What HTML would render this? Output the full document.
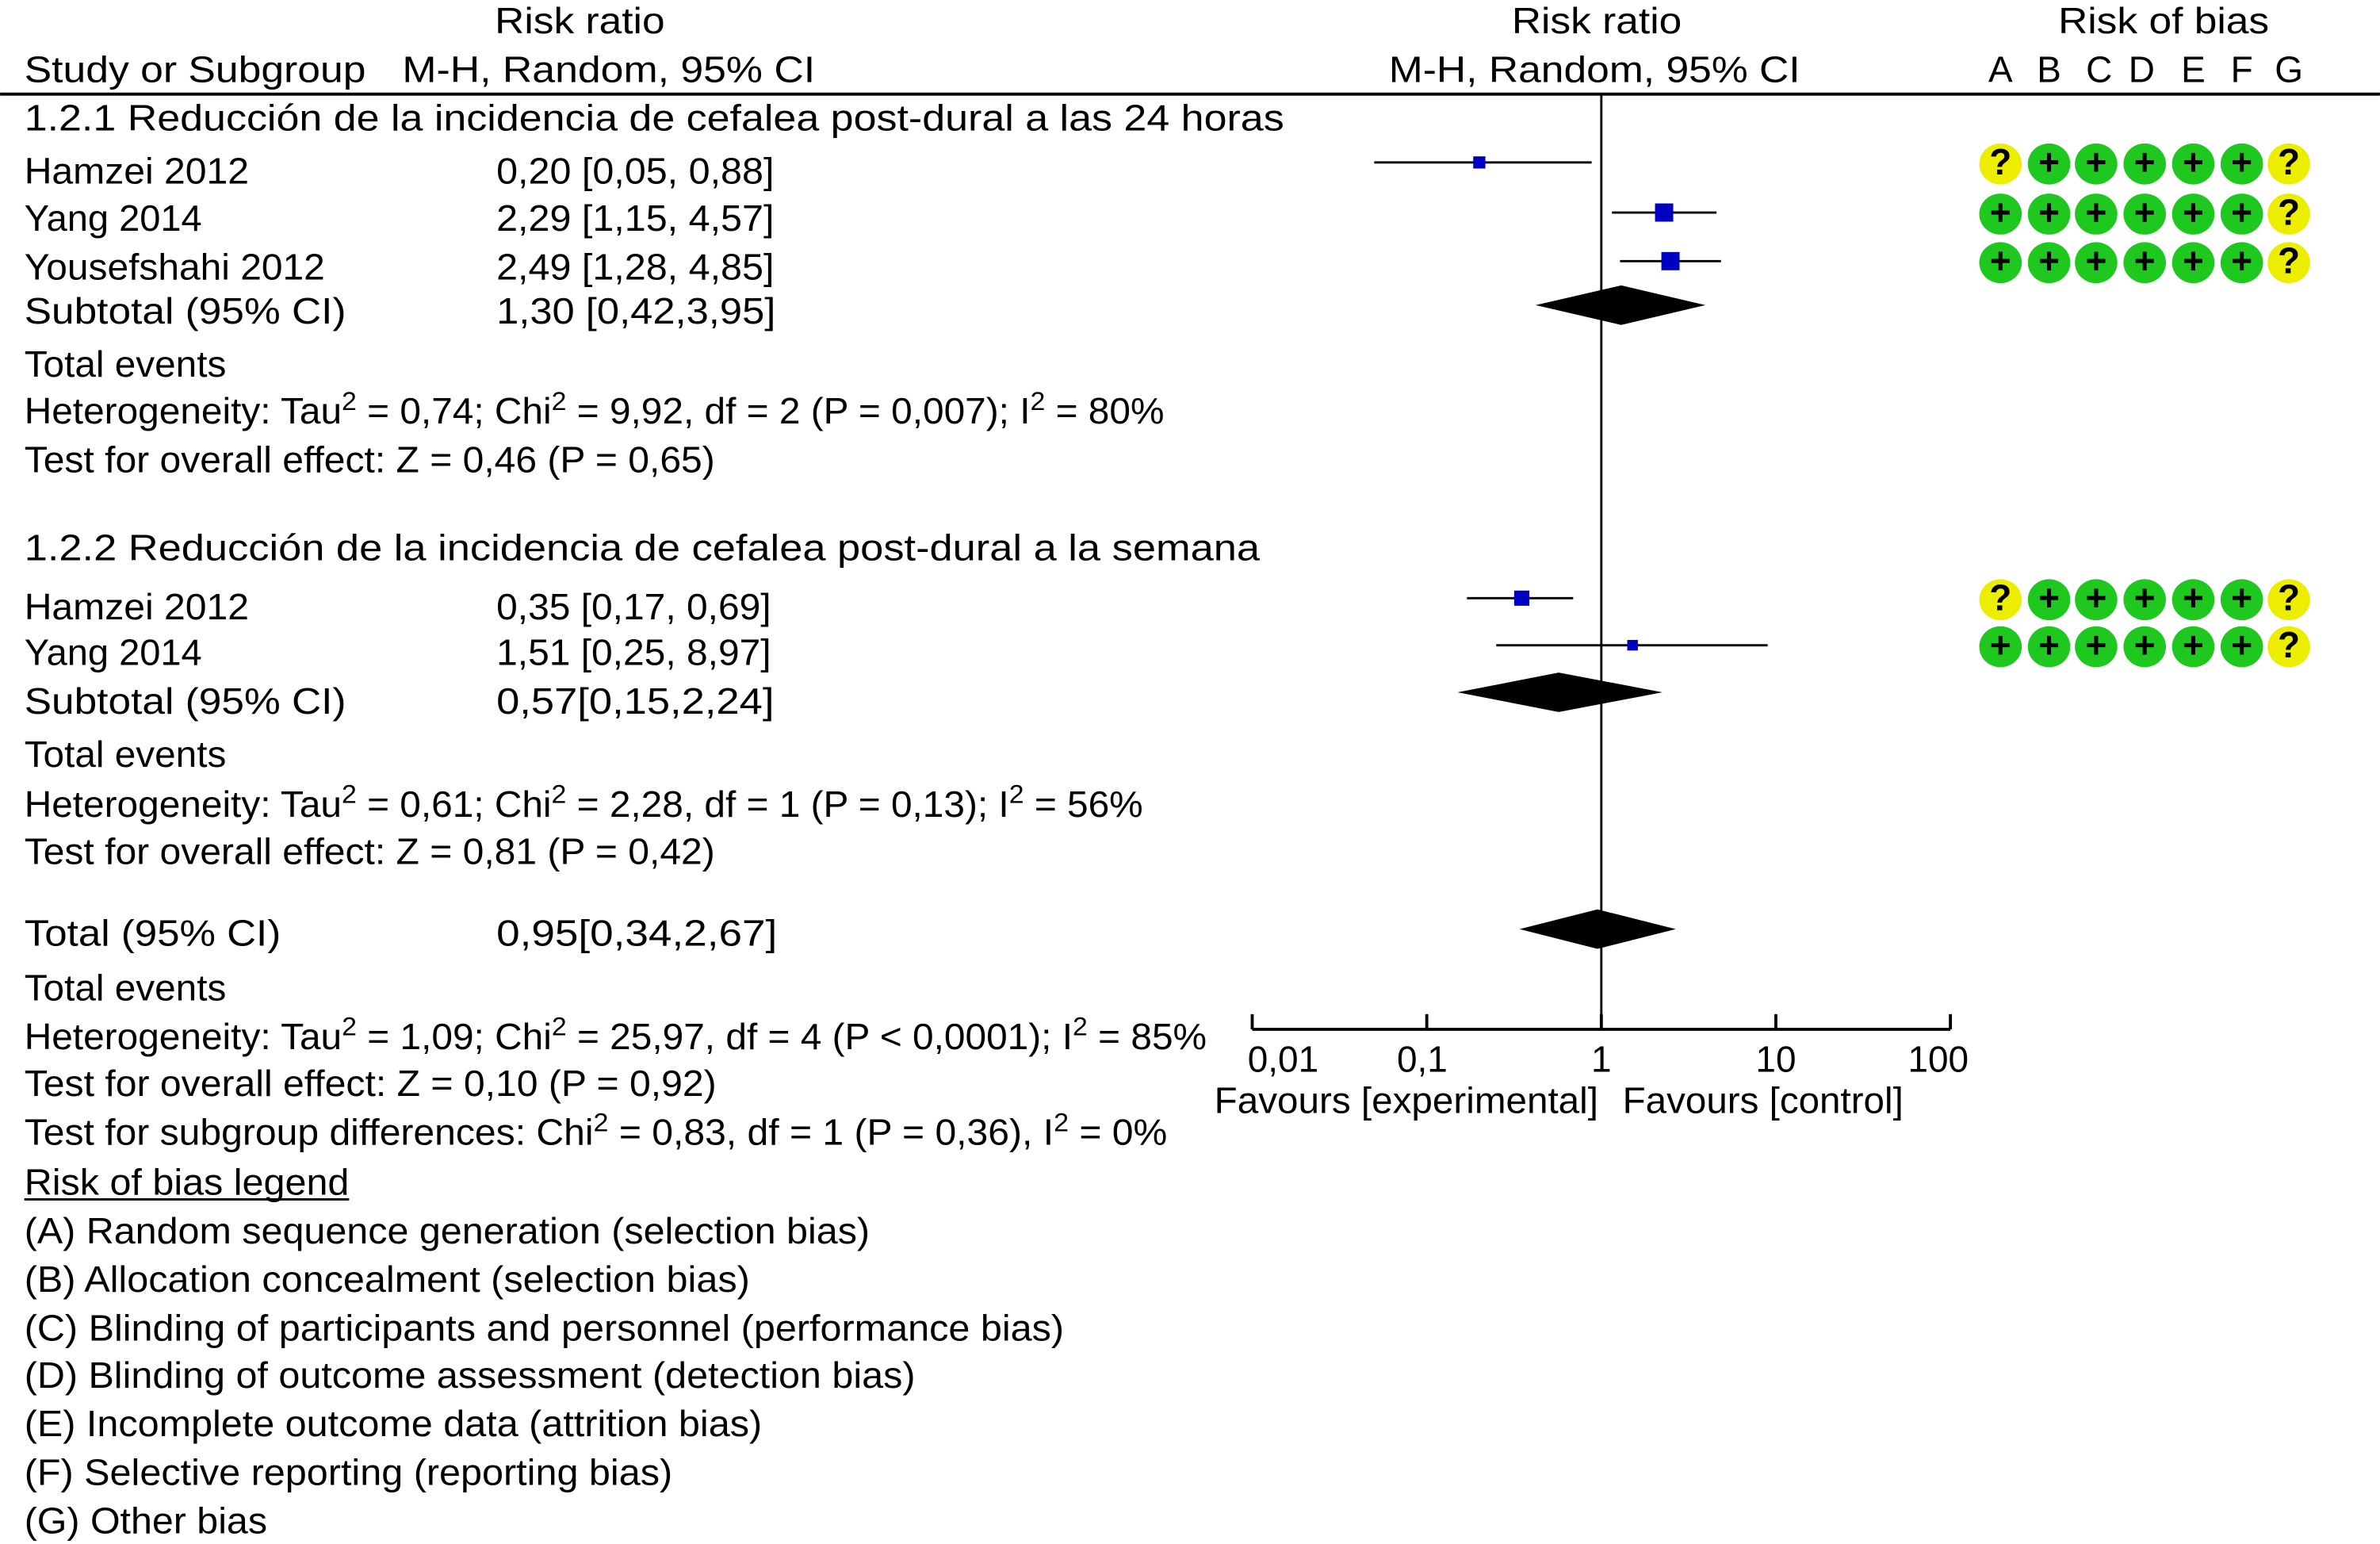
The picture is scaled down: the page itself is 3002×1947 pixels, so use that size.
<!DOCTYPE html>
<html><head><meta charset="utf-8"><style>
html,body{margin:0;padding:0;background:#fff;}
svg{display:block;}
text{font-family:"Liberation Sans",sans-serif;font-size:24px;fill:#000;}
</style></head><body>
<svg id="chart" width="3002" height="1947" viewBox="0 0 1568 1017" xmlns="http://www.w3.org/2000/svg">
<g>
<text x="382" y="22" text-anchor="middle" textLength="112" lengthAdjust="spacingAndGlyphs">Risk ratio</text>
<text x="16" y="54" textLength="225" lengthAdjust="spacingAndGlyphs">Study or Subgroup</text>
<text x="265" y="54" textLength="272" lengthAdjust="spacingAndGlyphs">M-H, Random, 95% CI</text>
<text x="996" y="22" textLength="112" lengthAdjust="spacingAndGlyphs">Risk ratio</text>
<text x="915" y="54" textLength="271" lengthAdjust="spacingAndGlyphs">M-H, Random, 95% CI</text>
<text x="1356" y="22" textLength="139" lengthAdjust="spacingAndGlyphs">Risk of bias</text>
<g font-size="25">
<text x="1318" y="54" text-anchor="middle" font-size="25">A</text><text x="1350" y="54" text-anchor="middle" font-size="25">B</text><text x="1383" y="54" text-anchor="middle" font-size="25">C</text><text x="1411" y="54" text-anchor="middle" font-size="25">D</text><text x="1445" y="54" text-anchor="middle" font-size="25">E</text><text x="1477" y="54" text-anchor="middle" font-size="25">F</text><text x="1508" y="54" text-anchor="middle" font-size="25">G</text>
</g>
<line x1="0" y1="62" x2="1568" y2="62" stroke="#000" stroke-width="2"/>
</g>
<g>
<text x="16" y="86" textLength="830" lengthAdjust="spacingAndGlyphs">1.2.1 Reducción de la incidencia de cefalea post-dural a las 24 horas</text>
<text x="16" y="121" textLength="148" lengthAdjust="spacingAndGlyphs">Hamzei 2012</text>
<text x="327" y="121" textLength="183" lengthAdjust="spacingAndGlyphs">0,20 [0,05, 0,88]</text>
<text x="16" y="152" textLength="117" lengthAdjust="spacingAndGlyphs">Yang 2014</text>
<text x="327" y="152" textLength="183" lengthAdjust="spacingAndGlyphs">2,29 [1,15, 4,57]</text>
<text x="16" y="184" textLength="198" lengthAdjust="spacingAndGlyphs">Yousefshahi 2012</text>
<text x="327" y="184" textLength="183" lengthAdjust="spacingAndGlyphs">2,49 [1,28, 4,85]</text>
<text x="16" y="213" textLength="212" lengthAdjust="spacingAndGlyphs">Subtotal (95% CI)</text>
<text x="327" y="213" textLength="184" lengthAdjust="spacingAndGlyphs">1,30 [0,42,3,95]</text>
<text x="16" y="248" textLength="133" lengthAdjust="spacingAndGlyphs">Total events</text>
<text x="16" y="279" textLength="751" lengthAdjust="spacingAndGlyphs">Heterogeneity: Tau<tspan dy="-9" font-size="17">2</tspan><tspan dy="9"> = 0,74; Chi</tspan><tspan dy="-9" font-size="17">2</tspan><tspan dy="9"> = 9,92, df = 2 (P = 0,007); I</tspan><tspan dy="-9" font-size="17">2</tspan><tspan dy="9"> = 80%</tspan></text>
<text x="16" y="311" textLength="455" lengthAdjust="spacingAndGlyphs">Test for overall effect: Z = 0,46 (P = 0,65)</text>
<text x="16" y="369" textLength="814" lengthAdjust="spacingAndGlyphs">1.2.2  Reducción de la incidencia de cefalea post-dural a la semana</text>
<text x="16" y="408" textLength="148" lengthAdjust="spacingAndGlyphs">Hamzei 2012</text>
<text x="327" y="408" textLength="181" lengthAdjust="spacingAndGlyphs">0,35 [0,17, 0,69]</text>
<text x="16" y="438" textLength="117" lengthAdjust="spacingAndGlyphs">Yang 2014</text>
<text x="327" y="438" textLength="181" lengthAdjust="spacingAndGlyphs">1,51 [0,25, 8,97]</text>
<text x="16" y="470" textLength="212" lengthAdjust="spacingAndGlyphs">Subtotal (95% CI)</text>
<text x="327" y="470" textLength="183" lengthAdjust="spacingAndGlyphs">0,57[0,15,2,24]</text>
<text x="16" y="505" textLength="133" lengthAdjust="spacingAndGlyphs">Total events</text>
<text x="16" y="538" textLength="737" lengthAdjust="spacingAndGlyphs">Heterogeneity: Tau<tspan dy="-9" font-size="17">2</tspan><tspan dy="9"> = 0,61; Chi</tspan><tspan dy="-9" font-size="17">2</tspan><tspan dy="9"> = 2,28, df = 1 (P = 0,13); I</tspan><tspan dy="-9" font-size="17">2</tspan><tspan dy="9"> = 56%</tspan></text>
<text x="16" y="569" textLength="455" lengthAdjust="spacingAndGlyphs">Test for overall effect: Z = 0,81 (P = 0,42)</text>
<text x="16" y="623" textLength="169" lengthAdjust="spacingAndGlyphs">Total (95% CI)</text>
<text x="327" y="623" textLength="185" lengthAdjust="spacingAndGlyphs">0,95[0,34,2,67]</text>
<text x="16" y="659" textLength="133" lengthAdjust="spacingAndGlyphs">Total events</text>
<text x="16" y="691" textLength="779" lengthAdjust="spacingAndGlyphs">Heterogeneity: Tau<tspan dy="-9" font-size="17">2</tspan><tspan dy="9"> = 1,09; Chi</tspan><tspan dy="-9" font-size="17">2</tspan><tspan dy="9"> = 25,97, df = 4 (P &lt; 0,0001); I</tspan><tspan dy="-9" font-size="17">2</tspan><tspan dy="9"> = 85%</tspan></text>
<text x="16" y="722" textLength="456" lengthAdjust="spacingAndGlyphs">Test for overall effect: Z = 0,10 (P = 0,92)</text>
<text x="16" y="754" textLength="753" lengthAdjust="spacingAndGlyphs">Test for subgroup differences: Chi<tspan dy="-9" font-size="17">2</tspan><tspan dy="9"> = 0,83, df = 1 (P = 0,36), I</tspan><tspan dy="-9" font-size="17">2</tspan><tspan dy="9"> = 0%</tspan></text>
<text x="16" y="787" textLength="214" lengthAdjust="spacingAndGlyphs">Risk of bias legend</text>
<line x1="16" y1="790" x2="230" y2="790" stroke="#000" stroke-width="1.5"/>
<text x="16" y="819" textLength="557" lengthAdjust="spacingAndGlyphs">(A) Random sequence generation (selection bias)</text>
<text x="16" y="851" textLength="478" lengthAdjust="spacingAndGlyphs">(B) Allocation concealment (selection bias)</text>
<text x="16" y="883" textLength="685" lengthAdjust="spacingAndGlyphs">(C) Blinding of participants and personnel (performance bias)</text>
<text x="16" y="914" textLength="587" lengthAdjust="spacingAndGlyphs">(D) Blinding of outcome assessment (detection bias)</text>
<text x="16" y="946" textLength="486" lengthAdjust="spacingAndGlyphs">(E) Incomplete outcome data (attrition bias)</text>
<text x="16" y="978" textLength="427" lengthAdjust="spacingAndGlyphs">(F) Selective reporting (reporting bias)</text>
<text x="16" y="1010" textLength="160" lengthAdjust="spacingAndGlyphs">(G) Other bias</text>
</g>
<g id="plot"></g>
<g id="bias"></g>
<text x="800" y="733" textLength="253" lengthAdjust="spacingAndGlyphs">Favours [experimental]</text>
<text x="1069" y="733" textLength="185" lengthAdjust="spacingAndGlyphs">Favours [control]</text>
</svg>
<script>
const studyNames = ["Hamzei 2012","Yang 2014","Yousefshahi 2012","Hamzei 2012","Yang 2014"];
const studyEst = [0.20, 2.29, 2.49, 0.35, 1.51];
const studyLo = [0.05, 1.15, 1.28, 0.17, 0.25];
const studyHi = [0.88, 4.57, 4.85, 0.69, 8.97];
const studyWeight = [8, 12, 12, 10, 7];
const studyRowY = [107, 140, 172, 394, 425];
const diamondNames = ["subtotal-1","subtotal-2","total"];
const diamondEst = [1.30, 0.57, 0.95];
const diamondLo = [0.42, 0.15, 0.34];
const diamondHi = [3.95, 2.24, 2.67];
const diamondRowY = [201, 456, 612];
const tickValues = [0.01, 0.1, 1, 10, 100];
const tickLabels = ["0,01","0,1","1","10","100"];
const biasRows = [["?","+","+","+","+","+","?"],["+","+","+","+","+","+","?"],["+","+","+","+","+","+","?"],["?","+","+","+","+","+","?"],["+","+","+","+","+","+","?"]];

const NS = "http://www.w3.org/2000/svg";
const X0 = 1055, DEC = 115, AXIS_Y = 678;
function xs(v){ return X0 + Math.log10(v) * DEC; }
function mk(tag, attrs, parent){ const e = document.createElementNS(NS, tag); for (const k in attrs) e.setAttribute(k, attrs[k]); parent.appendChild(e); return e; }
const plot = document.getElementById('plot');

const ref = mk('line', {x1: xs(1), y1: 62, x2: xs(1), y2: AXIS_Y, stroke: '#000', 'stroke-width': 1.5}, plot);



const ax = mk('line', {x1: xs(tickValues[0]), y1: AXIS_Y, x2: xs(tickValues[tickValues.length-1]), y2: AXIS_Y, stroke: '#000', 'stroke-width': 2}, plot);


const nT = tickValues.length;
tickValues.forEach((v, i) => {
  const t = mk('line', {x1: xs(v), y1: AXIS_Y - 10, x2: xs(v), y2: AXIS_Y, stroke: '#000', 'stroke-width': 2}, plot);
  
  
  let anchor = 'middle', off = 0;
  if (i === 0) { anchor = 'start'; off = -3; }
  else if (i === nT - 1) { anchor = 'end'; off = 12; }
  else if (v < 1) { off = -3; }
  const lb = mk('text', {x: xs(v) + off, y: AXIS_Y + 28, 'text-anchor': anchor}, plot);
  lb.textContent = tickLabels[i];
  
  
});

studyEst.forEach((v, i) => {
  const y = studyRowY[i];
  const ci = mk('line', {x1: xs(studyLo[i]), y1: y, x2: xs(studyHi[i]), y2: y, stroke: '#000', 'stroke-width': 1.5}, plot);
  
  
  const s = studyWeight[i];
  const b = mk('rect', {x: xs(v) - s/2, y: y - s/2, width: s, height: s, fill: '#0000c0'}, plot);
  
  
});

diamondEst.forEach((v, i) => {
  const y = diamondRowY[i], h = 13;
  const d = mk('polygon', {points: `${xs(diamondLo[i])},${y} ${xs(v)},${y-h} ${xs(diamondHi[i])},${y} ${xs(v)},${y+h}`, fill: '#000'}, plot);
  
  
});

const bias = document.getElementById('bias');
const colX = [1318, 1350, 1381, 1413, 1445, 1477, 1508];
biasRows.forEach((row, r) => {
  const y = studyRowY[r] + 1;
  row.forEach((c, k) => {
    const e = mk('ellipse', {cx: colX[k], cy: y, rx: 14, ry: 13.5, fill: c === '+' ? '#1ec81e' : '#eded00'}, bias);
    
    
    const t = mk('text', {x: colX[k], y: y + 7, 'text-anchor': 'middle', 'font-weight': 'bold', 'font-size': c === '+' ? 20 : 19}, bias);
    t.textContent = c;
    
    
  });
});
</script>
</body></html>
